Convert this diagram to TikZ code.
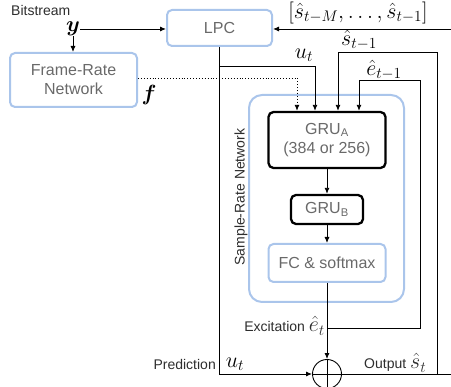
\RequirePackage{fix-cm}
\documentclass[tikz,border=0pt]{standalone}
\usepackage{bm}
\usepackage{fontspec}
\setmainfont{Liberation Sans}
\usetikzlibrary{arrows.meta,calc}
\definecolor{myblue}{RGB}{170,197,235}
\definecolor{boxtxt}{RGB}{105,105,105}
\definecolor{labtxt}{RGB}{45,45,45}
\newcommand{\boxfont}{\fontsize{16}{19}\selectfont}
\newcommand{\labfont}{\fontsize{14}{16}\selectfont}
\newcommand{\mfont}{\fontsize{22}{24}\selectfont}
\begin{document}
\begin{tikzpicture}[x=1pt,y=-1pt,
  blubox/.style={draw=myblue, line width=2pt, rounded corners=5pt, text=boxtxt, font=\boxfont, align=center, inner sep=0pt},
  blkbox/.style={draw=black, line width=2.3pt, rounded corners=5pt, text=boxtxt, font=\boxfont, align=center, inner sep=0pt},
  conn/.style={line width=0.9pt, -{Latex[length=6pt,width=5pt]}},
  plain/.style={line width=0.9pt},
  lab/.style={font=\labfont, text=labtxt, inner sep=0pt},
  mth/.style={font=\mfont, inner sep=0pt}]
\useasboundingbox (0,0) rectangle (451,387);
% boxes
\node[blubox, minimum width=105pt, minimum height=36pt] (lpc) at (219.5,28) {LPC};
\node[blubox, minimum width=127pt, minimum height=54pt] (frn) at (73.5,80) {Frame-Rate\\Network};
\node[blubox, rounded corners=13pt, minimum width=155pt, minimum height=207pt] (srn) at (326.5,198.5) {};
\node[blkbox, minimum width=117pt, minimum height=56pt] (gra) at (327,140) {GRU\textsubscript{A}\\(384 or 256)};
\node[blkbox, minimum width=72pt, minimum height=29pt] (grb) at (327,209.5) {GRU\textsubscript{B}};
\node[blubox, minimum width=117pt, minimum height=38pt] (fc) at (327,263) {FC \& softmax};
\node[circle, draw, line width=0.9pt, minimum size=29pt, inner sep=0pt] (sum) at (327,374) {};
\draw[line width=0.9pt] (sum.north) -- (sum.south) (sum.west) -- (sum.east);
% labels
\node[lab, anchor=west] (bits) at (11,11) {Bitstream};
\node[mth] (y) at (73,29) {$\bm{y}$};
\node[mth] (f) at (149,95) {$\bm{f}$};
\node[mth] (shist) at (358,13) {$[\hat{s}_{t-M},\ldots,\hat{s}_{t-1}]$};
\node[mth] (ulab) at (304,55) {$u_t$};
\node[mth] (slab) at (359,40) {$\hat{s}_{t-1}$};
\node[mth] (elab) at (384,70) {$\hat{e}_{t-1}$};
\node[lab, rotate=90] (srnlab) at (241,197) {Sample-Rate Network};
\node[lab, anchor=east] (exlab) at (325,326) {Excitation \mfont$\hat{e}_t$};
\node[lab, anchor=east] (predlab) at (216,364) {Prediction};
\node[mth] (predu) at (235,364) {$u_t$};
\node[lab, anchor=west] (outlab) at (364,363) {Output \mfont$\hat{s}_t$};
% coordinates
\coordinate (inp) at (451,29);
\coordinate (ub) at (219.5,66);
\coordinate (uc) at (315,66);
\coordinate (d1) at (297,78);
\coordinate (s1) at (338,52);
\coordinate (s2) at (437,52);
\coordinate (e1) at (359,80);
\coordinate (e2) at (420,80);
\coordinate (ex) at (327,328);
\coordinate (outend) at (451,374);
% connectors
\draw[conn] (y.east) -- (y.east -| lpc.west);
\draw[conn] (y.south) -- (y.south |- frn.north);
\draw[conn] (inp) -- (inp -| lpc.east);
\draw[conn, dotted] (frn.east |- d1) -- (d1) -- (d1 |- gra.north);
\draw[conn] (lpc.south) -- (lpc.south |- sum.west) -- (sum.west);
\draw[conn] (ub) -- (uc) -- (uc |- gra.north);
\draw[plain] (sum.east) -- (outend);
\draw[conn] (sum.east -| s2) -- (s2) -- (s1) -- (s1 |- gra.north);
\draw[conn] (ex) -| (e2) -- (e1) -- (e1 |- gra.north);
\draw[conn] (gra.south) -- (grb.north);
\draw[conn] (grb.south) -- (fc.north);
\draw[conn] (fc.south) -- (sum.north);
\end{tikzpicture}
\end{document}
